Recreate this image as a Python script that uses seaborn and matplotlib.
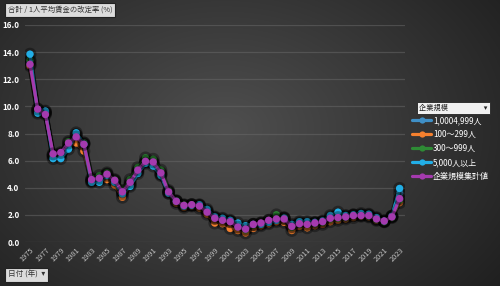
import numpy as np
import pandas as pd
import matplotlib
matplotlib.use("Agg")
import matplotlib.pyplot as plt
import matplotlib.patheffects as pe
from matplotlib.lines import Line2D
import seaborn as sns

sns.set_style("dark")
plt.rcParams['font.family'] = ['Noto Sans CJK JP', 'DejaVu Sans']

years = list(range(1975, 2024))

s_1000_4999 = [13.3, 9.6, 9.6, 6.3, 6.4, 7.1, 7.9, 7.3, 4.5, 4.6, 5.0, 4.5, 3.6, 4.3, 5.2, 5.9, 5.8, 5.0, 3.7, 3.0,
               2.7, 2.75, 2.7, 2.3, 1.8, 1.7, 1.55, 1.2, 1.05, 1.3, 1.35, 1.55, 1.7, 1.8, 1.2, 1.4, 1.4, 1.4, 1.5, 1.85,
               2.0, 1.9, 2.0, 2.0, 2.0, 1.75, 1.55, 1.9, 3.6]
s_100_299 = [13.0, 9.7, 9.5, 6.4, 6.5, 7.1, 7.3, 6.7, 4.5, 4.6, 4.6, 4.2, 3.3, 4.2, 5.2, 5.9, 5.8, 5.0, 3.6, 2.85,
             2.55, 2.65, 2.5, 2.05, 1.4, 1.35, 1.0, 0.85, 0.67, 1.0, 1.2, 1.35, 1.5, 1.45, 0.85, 1.15, 1.05, 1.2, 1.3, 1.5,
             1.6, 1.7, 1.8, 1.9, 1.85, 1.6, 1.5, 1.9, 2.9]
s_300_999 = [13.4, 9.8, 9.5, 6.4, 6.5, 7.4, 7.9, 7.3, 4.7, 4.9, 5.1, 4.6, 3.8, 4.6, 5.5, 6.2, 6.1, 5.3, 3.8, 3.05,
             2.75, 2.75, 2.7, 2.25, 1.75, 1.6, 1.5, 1.1, 0.9, 1.25, 1.4, 1.6, 2.0, 1.75, 1.1, 1.3, 1.3, 1.35, 1.45, 1.7,
             1.75, 1.8, 1.95, 2.0, 1.9, 1.65, 1.5, 1.8, 3.1]
s_5000_plus = [13.85, 9.5, 9.65, 6.15, 6.15, 6.85, 8.05, 7.2, 4.4, 4.4, 4.9, 4.4, 3.55, 4.1, 5.05, 5.8, 5.6, 4.9, 3.6, 3.0,
               2.65, 2.7, 2.75, 2.4, 1.85, 1.75, 1.6, 1.4, 1.2, 1.3, 1.3, 1.45, 1.6, 1.75, 1.3, 1.5, 1.5, 1.45, 1.55, 1.95,
               2.2, 1.95, 2.0, 2.1, 2.05, 1.8, 1.55, 1.9, 3.95]
s_total = [13.1, 9.8, 9.4, 6.5, 6.6, 7.3, 7.75, 7.2, 4.6, 4.7, 5.0, 4.55, 3.7, 4.4, 5.3, 5.95, 5.9, 5.1, 3.7, 3.0,
           2.7, 2.75, 2.65, 2.2, 1.75, 1.6, 1.5, 1.1, 0.95, 1.3, 1.4, 1.6, 1.7, 1.7, 1.15, 1.35, 1.3, 1.4, 1.5, 1.75,
           1.8, 1.85, 1.95, 1.95, 1.95, 1.7, 1.55, 1.85, 3.2]

series_names = ["1,0004,999人", "100～299人", "300～999人", "5,000人以上", "企業規模集計値"]
series_values = [s_1000_4999, s_100_299, s_300_999, s_5000_plus, s_total]
colors = ["#3f8fc6", "#f5802e", "#2e8b35", "#22aee6", "#a43aae"]

y_ticks = [0, 2, 4, 6, 8, 10, 12, 14, 16]
x_ticks = list(range(1975, 2024, 2))

W, H = 500, 286
fig = plt.figure(figsize=(W / 100, H / 100), dpi=100)

# background gradient
bg = fig.add_axes([0, 0, 1, 1], zorder=-5)
yy, xx = np.mgrid[0:H, 0:W]
cx, cy = W * 0.45, H * 0.45
r = np.sqrt(((xx - cx) / (W * 0.75)) ** 2 + ((yy - cy) / (H * 0.95)) ** 2)
val = np.clip(0.31 - 0.2 * r, 0.09, 0.32)
img = np.dstack([val, val, val])
bg.imshow(img, aspect='auto', extent=[0, 1, 0, 1], origin='upper')
bg.set_axis_off()

ax = fig.add_axes([25 / W, (H - 242) / H, (405 - 25) / W, (242 - 25) / H])
ax.set_facecolor('none')

df = pd.DataFrame({
    "year": np.tile(years, len(series_names)),
    "value": np.concatenate(series_values),
    "series": np.repeat(series_names, len(years)),
})

shadow = [pe.Stroke(linewidth=4.0, foreground='black', alpha=0.35), pe.Normal()]
for name, col in zip(series_names, colors):
    sub = df[df["series"] == name]
    sns.lineplot(data=sub, x="year", y="value", ax=ax, color=col, linewidth=2.3,
                 marker='o', markersize=5.3, markeredgewidth=0, legend=False,
                 path_effects=shadow)

ax.set_xlim(1974.35, 2023.7)
ax.set_ylim(0, 16)
ax.set_yticks(y_ticks)
ax.set_yticklabels([f"{v:.1f}" for v in y_ticks], color='white', fontsize=5.8, fontweight='bold')
ax.set_xticks(x_ticks)
ax.set_xticklabels([str(v) for v in x_ticks], rotation=45, ha='right', rotation_mode='anchor',
                   color='#c0c0c0', fontsize=5.3)
ax.tick_params(axis='both', length=0, pad=3)
ax.tick_params(axis='y', pad=4)
ax.grid(axis='y', color='#6a6a6a', linewidth=0.9, alpha=0.5)
ax.grid(axis='x', visible=False)
for s in ax.spines.values():
    s.set_visible(False)
ax.set_xlabel("")
ax.set_ylabel("")

# title button
fig.text(8 / W, 1 - 10 / H, "合計 / 1人平均賃金の改定率 (%)", fontsize=5.3, color='#333333',
         va='center', ha='left',
         bbox=dict(boxstyle='square,pad=0.35', facecolor='#dcdcdc', edgecolor='#222222', linewidth=0.8))
# x axis button
fig.text(8 / W, 1 - 275 / H, "日付 (年)  ▾", fontsize=5.5, color='#333333', va='center', ha='left',
         family=['Noto Sans CJK JP', 'DejaVu Sans'],
         bbox=dict(boxstyle='square,pad=0.35', facecolor='#dcdcdc', edgecolor='#222222', linewidth=0.8))
# legend dropdown
fig.text(419 / W, 1 - 108 / H, "企業規模" + " " * 22 + "▾", fontsize=5.2, color='#222222', va='center', ha='left',
         family=['Noto Sans CJK JP', 'DejaVu Sans'],
         bbox=dict(boxstyle='square,pad=0.3', facecolor='#f0f0f0', edgecolor='#222222', linewidth=0.6))

handles = [Line2D([0], [0], color=c, lw=2.3, marker='o', markersize=4.5, markeredgewidth=0) for c in colors]
leg = fig.legend(handles, series_names, loc='upper left', bbox_to_anchor=(412 / W, 1 - 116 / H),
                 frameon=False, fontsize=5.8, labelcolor='white', handlelength=2.4, handletextpad=0.2,
                 labelspacing=0.62, borderaxespad=0, borderpad=0)

fig.savefig("out.png", dpi=100)
